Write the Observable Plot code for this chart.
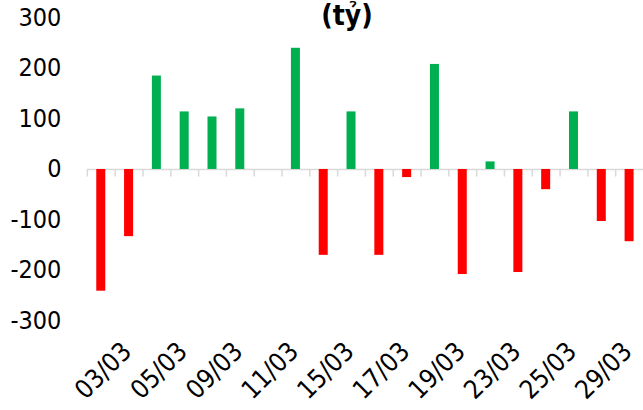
<!DOCTYPE html>
<html>
<head>
<meta charset="utf-8">
<script src="https://cdn.jsdelivr.net/npm/d3@7"></script>
<script src="https://cdn.jsdelivr.net/npm/@observablehq/plot@0.6"></script>
<style>
  html, body { margin: 0; padding: 0; background: #fff; overflow: hidden; }
  #wrap { position: relative; width: 643px; height: 410px; }
  #title { position: absolute; left: 347px; top: 0px; transform: translateX(-50%);
    font-family: "DejaVu Sans Condensed", "DejaVu Sans", sans-serif; font-stretch: condensed;
    font-weight: bold; font-size: 28px; color: #000; white-space: nowrap; line-height: 1.15; }
</style>
</head>
<body>
<div id="wrap"><div id="title">(tỷ)</div></div>
<script>
const dates = ["02/03","03/03","04/03","05/03","08/03","09/03","10/03","11/03","12/03","15/03",
               "16/03","17/03","18/03","19/03","22/03","23/03","24/03","25/03","26/03","29/03"];
const values = [-241,-133,185,114,104,120,0,240,-170,114,
                -170,-16,208,-208,15,-204,-40,114,-103,-143];
const shownLabels = ["03/03","05/03","09/03","11/03","15/03","17/03","19/03","23/03","25/03","29/03"];
const yTicks = [-300,-200,-100,0,100,200,300];

const data = dates.map((d, i) => ({date: d, value: values[i]}));
const font = `"DejaVu Sans Condensed", "DejaVu Sans", sans-serif`;
const step = (644 - 87) / dates.length;

const chart = Plot.plot({
  width: 644,
  height: 410,
  marginTop: 17.5,
  marginBottom: 89,
  marginLeft: 87,
  marginRight: 0,
  style: {fontFamily: font, fontStretch: "condensed", fontSize: "26px", color: "#000", background: "transparent"},
  x: {type: "band", domain: dates, paddingInner: 0.676, paddingOuter: 0.338, round: false, axis: null},
  y: {domain: [-300, 300], axis: null},
  marks: [
    Plot.ruleY([0], {stroke: "#d9d9d9", strokeWidth: 1.5}),
    Plot.ruleX(dates, {x: d => d, y1: 0, y2: -15, dx: -step / 2, stroke: "#d9d9d9", strokeWidth: 1.5}),
    Plot.barY(data, {x: "date", y: "value", fill: d => d.value >= 0 ? "#00b050" : "#ff0000"}),
    Plot.text(yTicks, {y: d => d, text: d => String(d), frameAnchor: "left", textAnchor: "end", dx: -26, fontSize: 25, fill: "#000"}),
    Plot.text(shownLabels, {x: d => d, text: d => d, frameAnchor: "bottom", rotate: -45, textAnchor: "end",
      lineAnchor: "bottom", dx: 4, dy: 32, fontSize: 26, fill: "#000"})
  ]
});
document.getElementById("wrap").appendChild(chart);
chart.style.position = "absolute";
chart.style.left = "0";
chart.style.top = "0";
chart.style.overflow = "visible";
</script>
</body>
</html>
